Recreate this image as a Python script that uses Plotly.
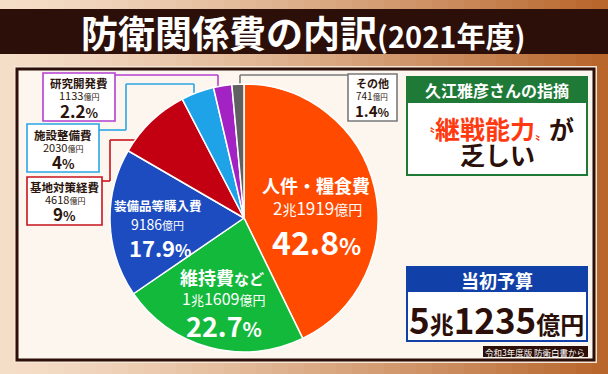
import plotly.graph_objects as go

W, H = 608, 374
FONT = "Noto Sans CJK JP"
DARK = "#2b0f08"

# ---- data ----
categories = ["人件・糧食費", "維持費など", "装備品等購入費", "基地対策経費", "施設整備費", "研究開発費", "その他"]
amounts_oku = [21919, 11609, 9186, 4618, 2030, 1133, 741]
amount_text = ["2兆1919", "1兆1609", "9186", "4618", "2030", "1133", "741"]
shares = ["42.8", "22.7", "17.9", "9", "4", "2.2", "1.4"]
slice_colors = ["#ff4a00", "#12b93a", "#1c4cc0", "#c30012", "#1ea2e8", "#a322c4", "#606060"]
box_colors = ["#ff4a00", "#12b93a", "#1c4cc0", "#c8141c", "#2aa6e6", "#b33fd0", "#7a7a7a"]
title_main = "防衛関係費の内訳"
title_sub = "(2021年度)"
comment_head = "久江雅彦さんの指摘"
comment_red = "継戦能力"
comment_rest = ["が", "乏しい"]
budget_head = "当初予算"
budget_total = ["5", "兆", "1235", "億円"]
source_note = "令和3年度版 防衛白書から"


def X(x):
    return x / W


def Y(y):
    return 1 - y / H


def sp(t, size, color=None):
    st = f"font-size:{size}px"
    if color:
        st += f";color:{color}"
    return f"<span style='{st}'>{t}</span>"


def amount_html(s, big, small):
    out = ""
    for part in s.replace("兆", "|兆|").split("|"):
        if part == "兆":
            out += sp("兆", small)
        elif part:
            out += sp(part, big)
    return out + sp("億円", small)


shapes = []
annotations = []


def rect(x0, y0, x1, y1, fill=None, line=None, lw=0, layer="below"):
    shapes.append(dict(type="rect", xref="paper", yref="paper",
                       x0=X(x0), x1=X(x1), y0=Y(y1), y1=Y(y0),
                       fillcolor=fill if fill else "rgba(0,0,0,0)",
                       line=dict(color=line if line else "rgba(0,0,0,0)", width=lw),
                       layer=layer))


def poly(pts, color, lw=1.6):
    for (a, b), (c, d) in zip(pts[:-1], pts[1:]):
        shapes.append(dict(type="line", xref="paper", yref="paper",
                           x0=X(a), y0=Y(b), x1=X(c), y1=Y(d),
                           line=dict(color=color, width=lw), layer="below"))


def ann(x, y, text, size, color, anchor="center"):
    annotations.append(dict(x=X(x), y=Y(y), xref="paper", yref="paper", text=text,
                            showarrow=False, xanchor=anchor, yanchor="middle",
                            borderpad=0,
                            font=dict(family=FONT, size=size, color=color)))


# ---- background gradient (decoration) ----
c0 = (245, 222, 200)
c1 = (184, 102, 44)
n = 38
for i in range(n):
    t = i / (n - 1)
    c = tuple(int(c0[k] + (c1[k] - c0[k]) * t ** 1.3) for k in range(3))
    rect(W * i / n, 0, W * (i + 1) / n + 1, H, fill=f"rgb{c}")

# title bar
rect(-2, 9, W + 2, 54, fill=DARK)
# panel
rect(14, 66, 597, 363, fill="#f6e6d6")
rect(17, 69, 594, 360, fill="#fdf6ef", line=DARK, lw=3)

# comment box
rect(407, 77, 587, 175, fill="white", line="#1e7a36", lw=2)
rect(407, 77, 587, 103, fill="#1e7a36")
# budget box
rect(407, 267, 587, 341, fill="white", line="#1040a8", lw=2)
rect(407, 267, 587, 292, fill="#1040a8")
# source tag
rect(483, 346, 588, 357, fill=DARK)

# label boxes + connectors
poly([(115, 75), (218, 75), (218, 86)], box_colors[5])
rect(43, 73, 115, 121, fill="white", line=box_colors[5], lw=1.6)
poly([(99, 130), (126, 130), (126, 84), (194, 84), (194, 93)], box_colors[4])
rect(27, 124, 99, 172, fill="white", line=box_colors[4], lw=1.6)
poly([(102, 181), (110, 181), (110, 140), (136, 140)], box_colors[3])
rect(27, 177, 102, 225, fill="white", line=box_colors[3], lw=1.6)
poly([(348, 75), (240, 75), (240, 86)], box_colors[6])
rect(348, 74, 397, 121, fill="white", line=box_colors[6], lw=1.6)

# ---- pie ----
fig = go.Figure()
fig.add_trace(go.Pie(
    labels=categories, values=amounts_oku, sort=False, direction="clockwise",
    rotation=0, marker=dict(colors=slice_colors, line=dict(color="white", width=1.5)),
    textinfo="none", hoverinfo="label+value", showlegend=False,
    domain=dict(x=[X(110), X(378)], y=[Y(352), Y(84)]),
))

# ---- texts ----
TXT = "#2b140c"
ann(303, 32, f"<b>{sp(title_main, 37)}{sp(title_sub, 29)}</b>", 37, "white")

# inside slices
ann(316, 185, f"<b>{categories[0]}</b>", 18, "white")
ann(317, 207, amount_html(amount_text[0], 17, 14), 16, "white")
ann(316, 241, f"<b>{sp(shares[0], 32)}{sp('%', 23)}</b>", 32, "white")

ann(222, 277, f"<b>{sp('維持費', 18)}{sp('など', 15)}</b>", 18, "white")
ann(223, 298, amount_html(amount_text[1], 16, 13), 16, "white")
ann(224, 325, f"<b>{sp(shares[1], 27)}{sp('%', 20)}</b>", 27, "white")

ann(158, 205, f"<b>{categories[2]}</b>", 12.5, "white")
ann(157, 224, amount_html(amount_text[2], 14, 11), 14, "white")
ann(160, 247, f"<b>{sp(shares[2], 22)}{sp('%', 17)}</b>", 22, "white")


# boxed labels
def box_label(cx, y_title, i, tsize=11.5, asize=11, usize=8, psize=17, pusize=13):
    ann(cx, y_title, f"<b>{categories[i]}</b>", tsize, TXT)
    ann(cx, y_title + 12, amount_html(amount_text[i], asize, usize), asize, TXT)
    ann(cx, y_title + 27, f"<b>{sp(shares[i], psize)}{sp('%', pusize)}</b>", psize, TXT)


box_label(79, 83, 5)
box_label(63, 135, 4)
box_label(64.5, 187, 3)
box_label(372, 83, 6, tsize=11, asize=10, usize=7.5, psize=15, pusize=12)

# comment box
ann(497, 90, f"<b>{comment_head}</b>", 16, "white")
line1 = (sp("〝", 14, "#ff3a10") + sp(comment_red, 25, "#ff3a10") + sp("〟", 14, "#ff3a10")
         + sp(comment_rest[0], 25, DARK))
ann(497, 141, f"<b>{line1}<br>{sp(comment_rest[1], 25)}</b>", 20, DARK)

# budget box
ann(497, 279.5, f"<b>{budget_head}</b>", 18, "white")
ann(496, 318, "<b>" + sp(budget_total[0], 35) + sp(budget_total[1], 24) + sp(budget_total[2], 35)
    + sp(budget_total[3], 24) + "</b>", 34, DARK)
ann(535, 351.5, source_note, 8.5, "white")

fig.update_layout(
    width=W, height=H, margin=dict(l=0, r=0, t=0, b=0),
    paper_bgcolor="#d89058", plot_bgcolor="rgba(0,0,0,0)",
    shapes=shapes, annotations=annotations,
    font=dict(family=FONT),
)
fig.write_html("out.html", config={"displayModeBar": False},
               post_script="document.body.style.margin='0px';")
